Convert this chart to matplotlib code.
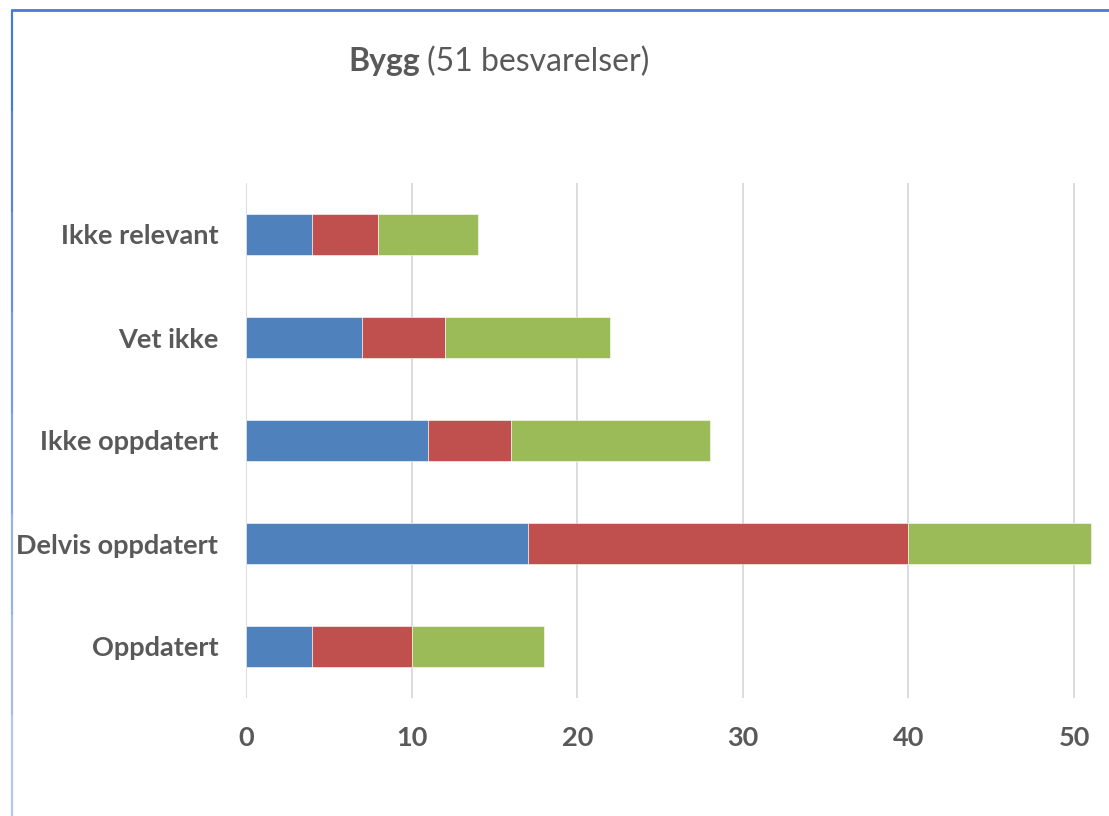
import matplotlib
matplotlib.use("Agg")
import matplotlib.pyplot as plt
import numpy as np
from matplotlib.lines import Line2D

# data (bottom to top)
categories = ["Oppdatert", "Delvis oppdatert", "Ikke oppdatert", "Vet ikke", "Ikke relevant"]
serie_1 = [4, 17, 11, 7, 4]
serie_2 = [6, 23, 5, 5, 4]
serie_3 = [8, 11, 12, 10, 6]
colors = ["#4F81BD", "#C0504D", "#9BBB59"]
ticks = [0, 10, 20, 30, 40, 50]

plt.rcParams["font.family"] = ["Lato", "DejaVu Sans"]
text_color = "#595959"

W, H = 1109, 816
fig = plt.figure(figsize=(W / 100, H / 100), dpi=100)
ax = fig.add_axes([246 / W, 1 - 698 / H, (W - 246) / W, (698 - 183) / H])

y = np.arange(len(categories))
left = np.zeros(len(categories))
for vals, c in zip([serie_1, serie_2, serie_3], colors):
    ax.barh(y, vals, left=left, height=0.4, color=c, edgecolor="white", linewidth=0.4, zorder=3)
    left += np.array(vals)

ax.set_ylim(-0.5, len(categories) - 0.5)
ax.set_xlim(0, (W - 246) / 16.56)
ax.set_xticks(ticks)
ax.set_yticks(y)
ax.set_yticklabels(categories)
ax.grid(axis="x", color="#D9D9D9", linewidth=1.3, zorder=0)
for s in ax.spines.values():
    s.set_visible(False)
ax.tick_params(length=0, colors=text_color, labelsize=19.5)
ax.tick_params(axis="x", pad=20)
ax.tick_params(axis="y", pad=20)
for lab in ax.get_xticklabels() + ax.get_yticklabels():
    lab.set_fontweight("bold")

# title: bold part + regular part
t1 = fig.text(348 / W, 1 - 62 / H, "Bygg", fontsize=23, fontweight="bold",
              color=text_color, va="center", ha="left")
fig.canvas.draw()
bb = t1.get_window_extent()
fig.text((bb.x1 + 7) / W, 1 - 62 / H, "(51 besvarelser)", fontsize=23,
         color=text_color, va="center", ha="left")

# chart frame (cropped at right and bottom), left edge fades downwards
fig.add_artist(Line2D([12 / W, 1], [1 - 10 / H, 1 - 10 / H], color="#4A7BD4", lw=2, transform=fig.transFigure))
edge_y = np.linspace(10, H, 9)
edge_c = np.linspace(0, 1, 8)
for (y0, y1), f in zip(zip(edge_y[:-1], edge_y[1:]), edge_c):
    col = (1 - f) * np.array([0x4A, 0x7B, 0xD4]) / 255 + f * np.array([0xB4, 0xC8, 0xEE]) / 255
    fig.add_artist(Line2D([12 / W, 12 / W], [1 - y0 / H, 1 - y1 / H], color=col, lw=1.6,
                          solid_capstyle="butt", transform=fig.transFigure))

fig.savefig("out.png", dpi=100)
